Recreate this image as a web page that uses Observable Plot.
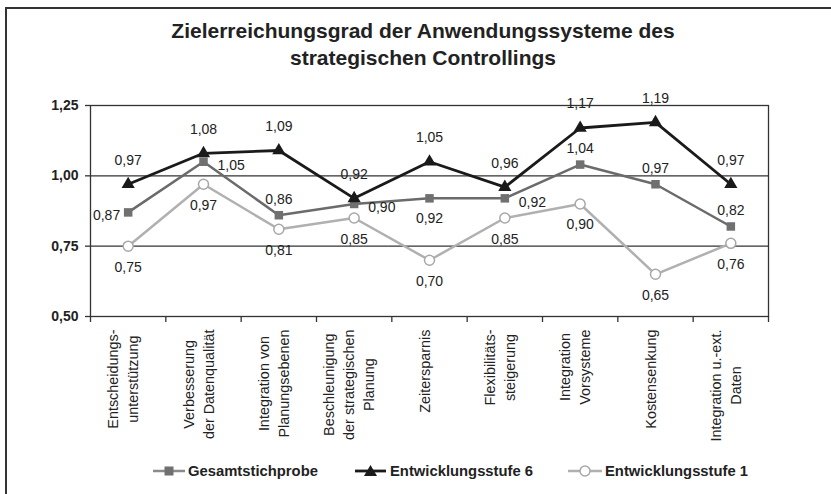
<!DOCTYPE html>
<html>
<head>
<meta charset="utf-8">
<script src="https://cdn.jsdelivr.net/npm/d3@7"></script>
<script src="https://cdn.jsdelivr.net/npm/@observablehq/plot@0.6"></script>
<style>
  body { margin: 0; background: #fff; }
  #wrap { position: relative; width: 831px; height: 494px; overflow: hidden; font-family: "Liberation Sans", Arial, sans-serif; color: #222; }
  #frame { position: absolute; left: 5px; top: 7px; width: 900px; height: 600px; border-left: 2px solid #333; border-top: 2px solid #333; }
  #chart { position: absolute; left: 0; top: 0; }
  #title { position: absolute; left: 0; top: 17px; width: 846px; text-align: center; font-weight: bold; font-size: 21px; line-height: 27px; }
  .leg { position: absolute; top: 462px; font-weight: bold; font-size: 14.8px; line-height: 18px; white-space: nowrap; }
  .sw { position: absolute; top: 464px; }
</style>
</head>
<body>
<div id="wrap">
  <div id="frame"></div>
  <div id="chart"></div>
  <div id="title">Zielerreichungsgrad der Anwendungssysteme des<br>strategischen Controllings</div>
  <svg class="sw" style="left:153px" width="32" height="14"><line x1="0" x2="32" y1="7" y2="7" stroke="#8a8a8a" stroke-width="2.5"/><rect x="11.5" y="2.5" width="9" height="9" fill="#707070"/></svg>
  <div class="leg" style="left:188px">Gesamtstichprobe</div>
  <svg class="sw" style="left:355px" width="31" height="14"><line x1="0" x2="31" y1="7" y2="7" stroke="#1a1a1a" stroke-width="2.8"/><path d="M15.5,1 L22,12 L9,12 Z" fill="#1a1a1a"/></svg>
  <div class="leg" style="left:390px">Entwicklungsstufe 6</div>
  <svg class="sw" style="left:568px" width="34" height="14"><line x1="0" x2="34" y1="7" y2="7" stroke="#b0b0b0" stroke-width="2.5"/><circle cx="17" cy="7" r="5" fill="#fff" stroke="#a8a8a8" stroke-width="1.5"/></svg>
  <div class="leg" style="left:605px">Entwicklungsstufe 1</div>
</div>
<script>
// ---- data ----
const categories = [
  "Entscheidungs-\nunterstützung",
  "Verbesserung\nder Datenqualität",
  "Integration von\nPlanungsebenen",
  "Beschleunigung\nder strategischen\nPlanung",
  "Zeitersparnis",
  "Flexibilitäts-\nsteigerung",
  "Integration\nVorsysteme",
  "Kostensenkung",
  "Integration u.-ext.\nDaten"
];
const gesamtstichprobe    = [0.87, 1.05, 0.86, 0.90, 0.92, 0.92, 1.04, 0.97, 0.82];
const entwicklungsstufe6  = [0.97, 1.08, 1.09, 0.92, 1.05, 0.96, 1.17, 1.19, 0.97];
const entwicklungsstufe1  = [0.75, 0.97, 0.81, 0.85, 0.70, 0.85, 0.90, 0.65, 0.76];
const yTicks = [0.50, 0.75, 1.00, 1.25];

// ---- drawing ----
const fmt = v => v.toFixed(2).replace(".", ",");
const rows = vals => vals.map((v, i) => ({ x: i + 0.5, v, label: fmt(v), i }));
const gRows = rows(gesamtstichprobe);
const s6Rows = rows(entwicklungsstufe6);
const s1Rows = rows(entwicklungsstufe1);

// label placement for Gesamtstichprobe (as in the original)
const gesamtLabelSide = ["left", "right", "above", "right", "below", "right", "above", "above", "above"];
const sideOpts = {
  left:  { textAnchor: "end",   dx: -8, dy: 3 },
  right: { textAnchor: "start", dx: 14, dy: 4 },
  above: { textAnchor: "middle", dx: 0, dy: -16 },
  below: { textAnchor: "middle", dx: 0, dy: 20 }
};

const FONT = "'Liberation Sans', Arial, sans-serif";
const xFont = 14.4;
const ctx = document.createElement("canvas").getContext("2d");
ctx.font = `${xFont}px ${FONT}`;

const xLabelMarks = categories.flatMap((c, i) => {
  const lines = c.split("\n");
  const block = Math.max(...lines.map(l => ctx.measureText(l).width));
  return lines.map((line, j) => Plot.text([i + 0.5], {
    x: d => d, text: () => line, frameAnchor: "bottom",
    rotate: -90, textAnchor: "middle",
    dx: (j - (lines.length - 1) / 2) * 20, dy: 13 + block / 2,
    fontSize: xFont, fill: "#222"
  }));
});

const gridColor = "#333";

const chart = Plot.plot({
  width: 831,
  height: 494,
  marginLeft: 90,
  marginRight: 63,
  marginTop: 105,
  marginBottom: 178,
  style: { fontFamily: FONT, color: "#222", background: "transparent", overflow: "visible" },
  x: { domain: [0, categories.length] },
  y: { domain: [0.5, 1.25] },
  marks: [
    Plot.ruleY([0.75, 1.0], { stroke: gridColor, strokeWidth: 1.3 }),
    Plot.frame({ stroke: gridColor, strokeWidth: 1.3 }),
    Plot.axisY({ ticks: yTicks, tickSize: 5, tickPadding: 7, tickFormat: fmt, fontSize: 14, fontWeight: "bold", label: null, stroke: gridColor, strokeWidth: 1.3 }),
    Plot.axisX({ ticks: d3.range(categories.length + 1), tickSize: 6, tickFormat: () => "", label: null, stroke: gridColor, strokeWidth: 1.3 }),
    ...xLabelMarks,
    // Gesamtstichprobe
    Plot.line(gRows, { x: "x", y: "v", stroke: "#6b6b6b", strokeWidth: 2.5 }),
    Plot.dot(gRows, { x: "x", y: "v", symbol: "square", r: 4.8, fill: "#707070" }),
    // Entwicklungsstufe 6
    Plot.line(s6Rows, { x: "x", y: "v", stroke: "#1a1a1a", strokeWidth: 2.8 }),
    Plot.dot(s6Rows, { x: "x", y: "v", symbol: "triangle", r: 4.9, fill: "#1a1a1a" }),
    // Entwicklungsstufe 1
    Plot.line(s1Rows, { x: "x", y: "v", stroke: "#b0b0b0", strokeWidth: 2.5 }),
    Plot.dot(s1Rows, { x: "x", y: "v", symbol: "circle", r: 5, fill: "#fff", stroke: "#a8a8a8", strokeWidth: 1.5 }),
    // value labels
    Plot.text(s6Rows, { x: "x", y: "v", text: "label", dy: -24, fontSize: 14, fill: "#222" }),
    Plot.text(s1Rows, { x: "x", y: "v", text: "label", dy: 21, fontSize: 14, fill: "#222" }),
    ...Object.entries(sideOpts).map(([side, o]) =>
      Plot.text(gRows.filter(d => gesamtLabelSide[d.i] === side), { x: "x", y: "v", text: "label", fontSize: 14, fill: "#222", ...o })
    )
  ]
});
document.getElementById("chart").appendChild(chart);
</script>
</body>
</html>
